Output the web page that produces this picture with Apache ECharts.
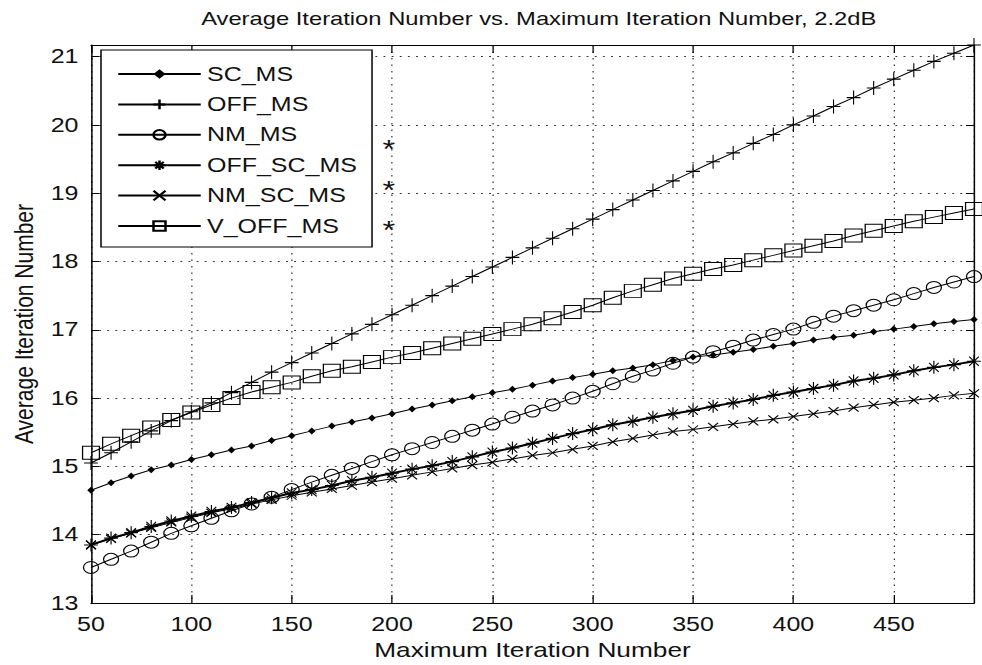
<!DOCTYPE html>
<html>
<head>
<meta charset="utf-8">
<script src="https://cdn.jsdelivr.net/npm/echarts@6/dist/echarts.min.js"></script>
<style>
  html, body { margin: 0; padding: 0; background: #fff; overflow: hidden; }
  /* the figure is drawn narrow and stretched sideways to the page width */
  #chart { width: 786px; height: 665px; transform: scaleX(1.25); transform-origin: 0 0; }
</style>
</head>
<body>
<div id="chart"></div>
<script>
// Maximum iteration number (x axis)
const maxIter = [50, 60, 70, 80, 90, 100, 110, 120, 130, 140, 150, 160, 170, 180, 190,
  200, 210, 220, 230, 240, 250, 260, 270, 280, 290, 300, 310, 320, 330, 340,
  350, 360, 370, 380, 390, 400, 410, 420, 430, 440, 450, 460, 470, 480, 490];

// Average iteration number per decoder
const scMs = [14.65, 14.76, 14.86, 14.95, 15.02, 15.10, 15.17, 15.24, 15.30, 15.38,
  15.45, 15.52, 15.59, 15.65, 15.71, 15.77, 15.84, 15.90, 15.96, 16.02,
  16.08, 16.13, 16.19, 16.25, 16.30, 16.35, 16.40, 16.44, 16.49, 16.55,
  16.60, 16.63, 16.67, 16.71, 16.76, 16.80, 16.85, 16.89, 16.92, 16.97,
  17.01, 17.05, 17.09, 17.12, 17.15];
const offMs = [15.05, 15.20, 15.36, 15.52, 15.67, 15.80, 15.93, 16.08, 16.23, 16.38,
  16.52, 16.66, 16.80, 16.94, 17.08, 17.22, 17.36, 17.50, 17.64, 17.78,
  17.92, 18.06, 18.20, 18.34, 18.48, 18.62, 18.76, 18.90, 19.04, 19.18,
  19.32, 19.46, 19.59, 19.73, 19.86, 20.00, 20.13, 20.27, 20.40, 20.54,
  20.67, 20.80, 20.93, 21.05, 21.17];
const nmMs = [13.52, 13.64, 13.76, 13.89, 14.02, 14.13, 14.24, 14.35, 14.45, 14.55,
  14.66, 14.77, 14.87, 14.97, 15.07, 15.17, 15.26, 15.35, 15.44, 15.53,
  15.62, 15.72, 15.81, 15.90, 16.00, 16.10, 16.21, 16.32, 16.41, 16.51,
  16.60, 16.68, 16.76, 16.85, 16.93, 17.01, 17.11, 17.20, 17.28, 17.36,
  17.44, 17.53, 17.62, 17.70, 17.78];
const offScMs = [13.85, 13.95, 14.03, 14.12, 14.20, 14.27, 14.34, 14.40, 14.47, 14.54,
  14.61, 14.66, 14.72, 14.79, 14.84, 14.90, 14.96, 15.01, 15.07, 15.14,
  15.21, 15.27, 15.34, 15.41, 15.48, 15.54, 15.61, 15.66, 15.72, 15.77,
  15.82, 15.88, 15.93, 15.98, 16.04, 16.09, 16.14, 16.19, 16.25, 16.29,
  16.34, 16.40, 16.45, 16.49, 16.54];
const nmScMs = [13.85, 13.94, 14.02, 14.10, 14.18, 14.25, 14.32, 14.38, 14.45, 14.51,
  14.57, 14.62, 14.67, 14.72, 14.77, 14.82, 14.87, 14.92, 14.97, 15.02,
  15.06, 15.11, 15.16, 15.20, 15.25, 15.30, 15.36, 15.41, 15.46, 15.51,
  15.54, 15.58, 15.62, 15.66, 15.69, 15.73, 15.77, 15.81, 15.86, 15.90,
  15.94, 15.97, 16.00, 16.04, 16.07];
const vOffMs = [15.20, 15.33, 15.45, 15.57, 15.68, 15.79, 15.90, 16.00, 16.09, 16.16,
  16.23, 16.32, 16.40, 16.46, 16.53, 16.60, 16.66, 16.73, 16.80, 16.87,
  16.94, 17.01, 17.08, 17.17, 17.26, 17.36, 17.47, 17.57, 17.66, 17.75,
  17.82, 17.89, 17.95, 18.02, 18.09, 18.16, 18.23, 18.30, 18.38, 18.45,
  18.52, 18.59, 18.65, 18.71, 18.77];

const seriesNames = ['SC_MS', 'OFF_MS', 'NM_MS', 'OFF_SC_MS', 'NM_SC_MS', 'V_OFF_MS'];
const xTicks = [50, 100, 150, 200, 250, 300, 350, 400, 450];
const yTicks = [13, 14, 15, 16, 17, 18, 19, 20, 21];

const FONT = "'Liberation Sans', Arial, Helvetica, sans-serif";
const INK = '#111';

// marker shapes drawn as stroked outlines
const SYM = {
  plus: 'path://M0,5L10,5M5,0L5,10',
  star: 'path://M0,5L10,5M5,0L5,10M1.5,1.5L8.5,8.5M1.5,8.5L8.5,1.5',
  cross: 'path://M0,0L10,10M0,10L10,0',
  ring: 'path://M10,5A5,5 0 1,1 0,5A5,5 0 1,1 10,5Z',
  box: 'path://M0,0L10,0L10,10L0,10Z'
};

const toPairs = ys => maxIter.map((x, i) => [x, ys[i]]);

function lineSeries(name, ys, symbol, size, filled, width) {
  return {
    name: name,
    type: 'line',
    data: toPairs(ys),
    symbol: symbol,
    symbolSize: size,
    showSymbol: true,
    lineStyle: { color: '#000', width: width },
    itemStyle: filled
      ? { color: '#000', borderColor: '#000', borderWidth: 0 }
      : { color: 'transparent', borderColor: '#000', borderWidth: 1 },
    emphasis: { disabled: true },
    z: 3
  };
}

const gridLine = { show: true, lineStyle: { color: '#333', type: [1.5, 5], width: 1 } };
const frameLine = { show: true, onZero: false, lineStyle: { color: '#000', width: 1.2 } };

const chart = echarts.init(document.getElementById('chart'), null, { renderer: 'svg' });
chart.setOption({
  animation: false,
  backgroundColor: '#fff',
  textStyle: { fontFamily: FONT, color: INK },
  title: {
    text: 'Average Iteration Number vs. Maximum Iteration Number, 2.2dB',
    left: 426, top: 4, textAlign: 'center',
    textStyle: { fontFamily: FONT, fontSize: 19, fontWeight: 'normal', color: INK }
  },
  grid: { left: 72.8, right: 6.8, top: 45, bottom: 59, containLabel: false },
  legend: {
    orient: 'vertical',
    left: 80.8, top: 50,
    data: seriesNames,
    itemWidth: 66, itemHeight: 12, itemGap: 10.4,
    padding: [14, 12, 11, 12.8],
    backgroundColor: '#fff',
    borderColor: '#000', borderWidth: 1.2, borderRadius: 0,
    textStyle: { fontFamily: FONT, fontSize: 20, color: INK },
    selectedMode: false,
    z: 10
  },
  xAxis: [{
    type: 'value', position: 'bottom',
    min: 50, max: 490, interval: 50,
    name: 'Maximum Iteration Number', nameLocation: 'middle', nameGap: 36,
    nameTextStyle: { fontFamily: FONT, fontSize: 21, color: INK },
    axisLine: frameLine,
    axisTick: { show: true, inside: true, length: 8, lineStyle: { color: '#000' } },
    axisLabel: {
      fontFamily: FONT, fontSize: 20, color: INK, margin: 11, showMaxLabel: false,
      formatter: v => (xTicks.includes(v) ? String(v) : '')
    },
    splitLine: gridLine
  }, {
    type: 'value', position: 'top',
    min: 50, max: 490, interval: 50,
    axisLine: frameLine,
    axisTick: { show: true, inside: true, length: 8, lineStyle: { color: '#000' } },
    axisLabel: { show: false },
    splitLine: { show: false }
  }],
  yAxis: [{
    type: 'value', position: 'left',
    min: 13, max: 21.17, interval: 1,
    name: 'Average Iteration Number', nameLocation: 'middle', nameGap: 42,
    nameTextStyle: { fontFamily: FONT, fontSize: 21, color: INK },
    axisLine: frameLine,
    axisTick: { show: true, inside: true, length: 6.4, lineStyle: { color: '#000' } },
    axisLabel: {
      fontFamily: FONT, fontSize: 20, color: INK, margin: 10, showMaxLabel: false,
      formatter: v => (yTicks.includes(v) ? String(v) : '')
    },
    splitLine: gridLine
  }, {
    type: 'value', position: 'right',
    min: 13, max: 21.17, interval: 1,
    axisLine: frameLine,
    axisTick: { show: true, inside: true, length: 6.4, lineStyle: { color: '#000' } },
    axisLabel: { show: false },
    splitLine: { show: false }
  }],
  graphic: [
    { type: 'text', left: 306, top: 136, style: { text: '*', fontFamily: FONT, fontSize: 26, fill: INK } },
    { type: 'text', left: 306, top: 177, style: { text: '*', fontFamily: FONT, fontSize: 26, fill: INK } },
    { type: 'text', left: 306, top: 217, style: { text: '*', fontFamily: FONT, fontSize: 26, fill: INK } }
  ],
  series: [
    lineSeries('SC_MS', scMs, 'diamond', [6, 7], true, 1),
    lineSeries('OFF_MS', offMs, SYM.plus, [11, 14], false, 1),
    lineSeries('NM_MS', nmMs, SYM.ring, [12, 12], false, 1),
    lineSeries('OFF_SC_MS', offScMs, SYM.star, [11, 13], false, 2),
    lineSeries('NM_SC_MS', nmScMs, SYM.cross, [8, 8], false, 1),
    lineSeries('V_OFF_MS', vOffMs, SYM.box, [13.5, 13], false, 1)
  ]
});
</script>
</body>
</html>
